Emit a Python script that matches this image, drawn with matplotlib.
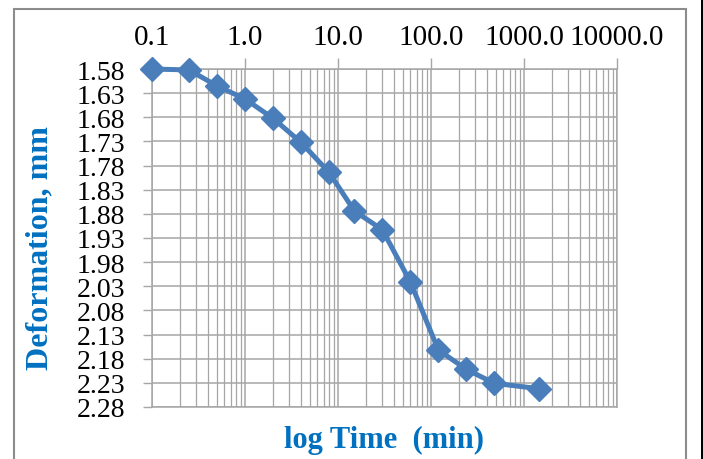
import matplotlib.pyplot as plt
import numpy as np
from matplotlib.ticker import FixedLocator, LogLocator, NullFormatter
from matplotlib.patches import Rectangle

# consolidation readings: elapsed time (min) vs dial deformation (mm)
time_min = [0.1, 0.25, 0.5, 1.0, 2.0, 4.0, 8.0, 15.0, 30.0, 60.0, 120.0, 240.0, 480.0, 1440.0]
deformation = [1.580, 1.582, 1.615, 1.642, 1.682, 1.732, 1.794, 1.874, 1.913,
               2.021, 2.162, 2.202, 2.231, 2.242]

x_ticks = [0.1, 1.0, 10.0, 100.0, 1000.0, 10000.0]
x_tick_labels = ['0.1', '1.0', '10.0', '100.0', '1000.0', '10000.0']
y_ticks = np.round(np.arange(1.58, 2.2801, 0.05), 2)

plt.rcParams['font.family'] = ['Liberation Serif', 'DejaVu Serif']

fig = plt.figure(figsize=(7.03, 4.6), dpi=100)
ax = fig.add_axes([152 / 703, 1 - 408 / 460, (617 - 152) / 703, (408 - 70) / 460])

grid_c = '#a6a6a6'
blue = '#4a7ebb'
ax.plot(time_min, deformation, color=blue, lw=3.6, marker='D', ms=12,
        markeredgecolor=blue, zorder=3, clip_on=False)

ax.set_xscale('log')
ax.set_xlim(0.1, 10000)
ax.set_ylim(2.28, 1.58)

ax.xaxis.set_major_locator(FixedLocator(x_ticks))
ax.set_xticklabels(x_tick_labels)
ax.xaxis.set_minor_locator(LogLocator(base=10, subs=np.arange(2, 10)))
ax.xaxis.set_minor_formatter(NullFormatter())
ax.set_yticks(y_ticks)
ax.set_yticklabels([f'{v:.2f}' for v in y_ticks])

ax.xaxis.tick_top()
ax.tick_params(axis='x', which='major', direction='out', length=8, width=1,
               color=grid_c, labelsize=21, pad=6)
ax.tick_params(axis='x', which='minor', length=0)
ax.tick_params(axis='y', direction='out', length=6.5, width=1, color=grid_c,
               labelsize=20, pad=13)

ax.grid(True, which='major', axis='both', color=grid_c, lw=1.1)
ax.grid(True, which='minor', axis='x', color=grid_c, lw=0.9)
for s in ax.spines.values():
    s.set_color(grid_c)
    s.set_linewidth(1.1)

fig.text(40 / 703, 1 - 248 / 460, 'Deformation, mm', fontsize=23, fontweight='bold',
         color='#0070c0', rotation=90, ha='center', va='center')
fig.text(384.5 / 703, 1 - 440 / 460, 'log Time  (min)', fontsize=22,
         fontweight='bold', color='#0070c0', ha='center', va='center')

# outer chart frame
fig.patches.append(Rectangle((14 / 703, -0.05), (686 - 14) / 703, 1.05 - 10 / 460,
                             transform=fig.transFigure, fill=False,
                             edgecolor='#8c8c8c', lw=1.5))
fig.patches.append(Rectangle((701 / 703, 0), 2 / 703, 1, transform=fig.transFigure,
                             color='black', lw=0))

fig.savefig('out.png', dpi=100)
